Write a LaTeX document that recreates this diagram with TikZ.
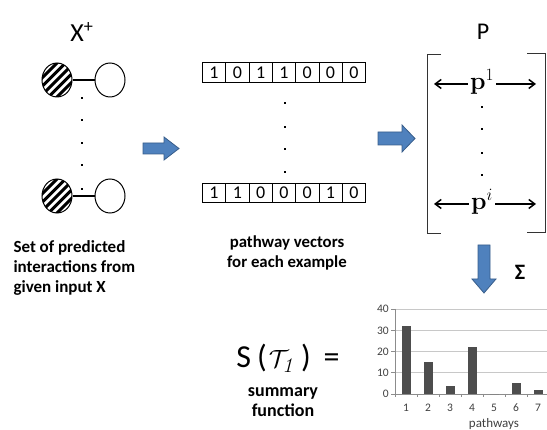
\documentclass[tikz,border=0pt]{standalone}
\usepackage[no-math]{fontspec}
\setmainfont{Carlito}
\usetikzlibrary{arrows.meta,shapes.geometric}
\definecolor{arrfill}{HTML}{4F81BD}
\definecolor{arrline}{HTML}{385D8A}
\definecolor{barc}{HTML}{4D4D4D}
\definecolor{gridc}{HTML}{C8C8C8}
\definecolor{axisc}{HTML}{8C8C8C}
\definecolor{tickc}{HTML}{404040}
\begin{document}
\begin{tikzpicture}[x=1pt,y=-1pt,
  blockarrow/.style={fill=arrfill,draw=arrline,line width=0.8pt,line join=miter},
  hatched/.style={draw,ellipse,line width=1pt,minimum width=30pt,minimum height=34pt,inner sep=0pt,
    path picture={\foreach \k in {-42.5,-34,...,42.5} \draw[line width=3pt] ([xshift=\k pt]path picture bounding box.center) ++(-25pt,-25pt) -- ++(50pt,50pt);}},
  openc/.style={draw,ellipse,line width=1pt,fill=white,minimum width=30pt,minimum height=34pt,inner sep=0pt},
  link/.style={line width=1.8pt},
  bit/.style={draw,line width=0.8pt,minimum width=23.3pt,minimum height=19.5pt,inner sep=0pt,font=\fontsize{18}{18}\selectfont,anchor=west},
  dotn/.style={rectangle,fill,inner sep=0pt,minimum size=2.6pt},
  brk/.style={draw=black!80,line width=0.9pt},
  parrow/.style={line width=1.5pt,-{Straight Barb[length=6pt,width=9pt]}},
  boldtext/.style={font=\bfseries\fontsize{17}{20}\selectfont,align=left},
  ticklab/.style={font=\fontsize{11.5}{11.5}\selectfont,text=tickc,inner sep=1pt}
]
\useasboundingbox (0,0) rectangle (547,430);

% ---- X+ and interactions
\node[font=\fontsize{26}{26}\selectfont] (xp) at (82,32) {X\textsuperscript{+}};
\node[hatched] (h1) at (57,80) {};
\node[openc] (w1) at (110,80) {};
\draw[link] (h1) -- (w1);
\node[hatched] (h2) at (57,196) {};
\node[openc] (w2) at (110,196) {};
\draw[link] (h2) -- (w2);
\foreach \yy [count=\i] in {98,120,143,165,189} \node[dotn] (ld\i) at (82,\yy) {};
\node[boldtext,anchor=north west] (lt) at (10,237) {Set of predicted\\interactions from\\given input X};

% ---- arrow 1
\fill[blockarrow] (143,143) -- (164,143) -- (164,137) -- (179,148.5) -- (164,160) -- (164,154) -- (143,154) -- cycle;

% ---- pathway vectors
\foreach \b [count=\i] in {1,0,1,1,0,0,0} \node[bit] (ta\i) at ({202+23.3*(\i-1)},72.5) {\b};
\foreach \b [count=\i] in {1,1,0,0,0,1,0} \node[bit] (tb\i) at ({202+23.3*(\i-1)},193) {\b};
\foreach \yy [count=\i] in {103,127,149,172} \node[dotn] (md\i) at (285,\yy) {};
\node[font=\bfseries\fontsize{16.8}{19.5}\selectfont,align=center] (mt) at (287,253) {pathway vectors\\for each example};

% ---- arrow 2
\fill[blockarrow] (378,132) -- (402,132) -- (402,125) -- (415,138.5) -- (402,152) -- (402,145) -- (378,145) -- cycle;

% ---- matrix P
\node[font=\fontsize{24}{24}\selectfont] (P) at (483,32) {P};
\draw[brk] (441,54) -- (427,54) -- (427,233) -- (441,233);
\draw[brk] (527,53) -- (545,53) -- (545,232) -- (527,232);
\node[font=\fontsize{25}{25}\selectfont,inner sep=2pt] (p1) at (482,82) {$\mathbf{p}^1$};
\node[font=\fontsize{25}{25}\selectfont,inner sep=2pt] (pi) at (482,202) {$\mathbf{p}^i$};
\coordinate (p1l) at (434,84);
\coordinate (p1r) at (536,84);
\coordinate (pil) at (434,204);
\coordinate (pir) at (536,204);
\draw[parrow] (p1.west|-p1l) -- (p1l);
\draw[parrow] (p1.east|-p1r) -- (p1r);
\draw[parrow] (pi.west|-pil) -- (pil);
\draw[parrow] (pi.east|-pir) -- (pir);
\foreach \yy [count=\i] in {107,129,153,175} \node[dotn] (rd\i) at (482,\yy) {};

% ---- down arrow and Sigma
\fill[blockarrow] (478,245) -- (490,245) -- (490,279) -- (496,279) -- (484,293) -- (472,279) -- (478,279) -- cycle;
\node[font=\bfseries\fontsize{22}{22}\selectfont] (sig) at (520,272) {Σ};

% ---- summary function
\node[font=\fontsize{32}{32}\selectfont] (sfun) at (288,358) {S\hspace{6pt}(\hspace{2pt}$\mathcal{T}_{\mathit{1}}$\hspace{5pt})\hspace{13pt}=};
\node[font=\bfseries\fontsize{18}{20}\selectfont,align=center] (st) at (283,402) {summary\\function};

% ---- bar chart
\foreach \v in {10,20,30,40} \draw[gridc,line width=0.9pt] (395,{394-2.12*\v}) -- (547,{394-2.12*\v});
\foreach \v in {0,10,20,30,40} {
  \draw[axisc,line width=0.8pt] (391,{394-2.12*\v}) -- (395,{394-2.12*\v});
  \node[ticklab,anchor=east] at (390,{394-2.12*\v}) {\v};
}
\draw[axisc,line width=0.8pt] (395,309) -- (395,394) -- (547,394);
\foreach \k in {0,...,7} \draw[axisc,line width=0.8pt] ({395+22*\k},394) -- ({395+22*\k},397.5);
\foreach \v [count=\i] in {32,15,4,22,0,5,2} {
  \fill[barc] ({406+22*(\i-1)-4.5},394) rectangle ({406+22*(\i-1)+4.5},{394-2.12*\v});
  \node[ticklab] at ({406+22*(\i-1)},408) {\i};
}
\node[font=\fontsize{13}{13}\selectfont,text=tickc,inner sep=1pt] (pw) at (494,424) {pathways};
\end{tikzpicture}
\end{document}
